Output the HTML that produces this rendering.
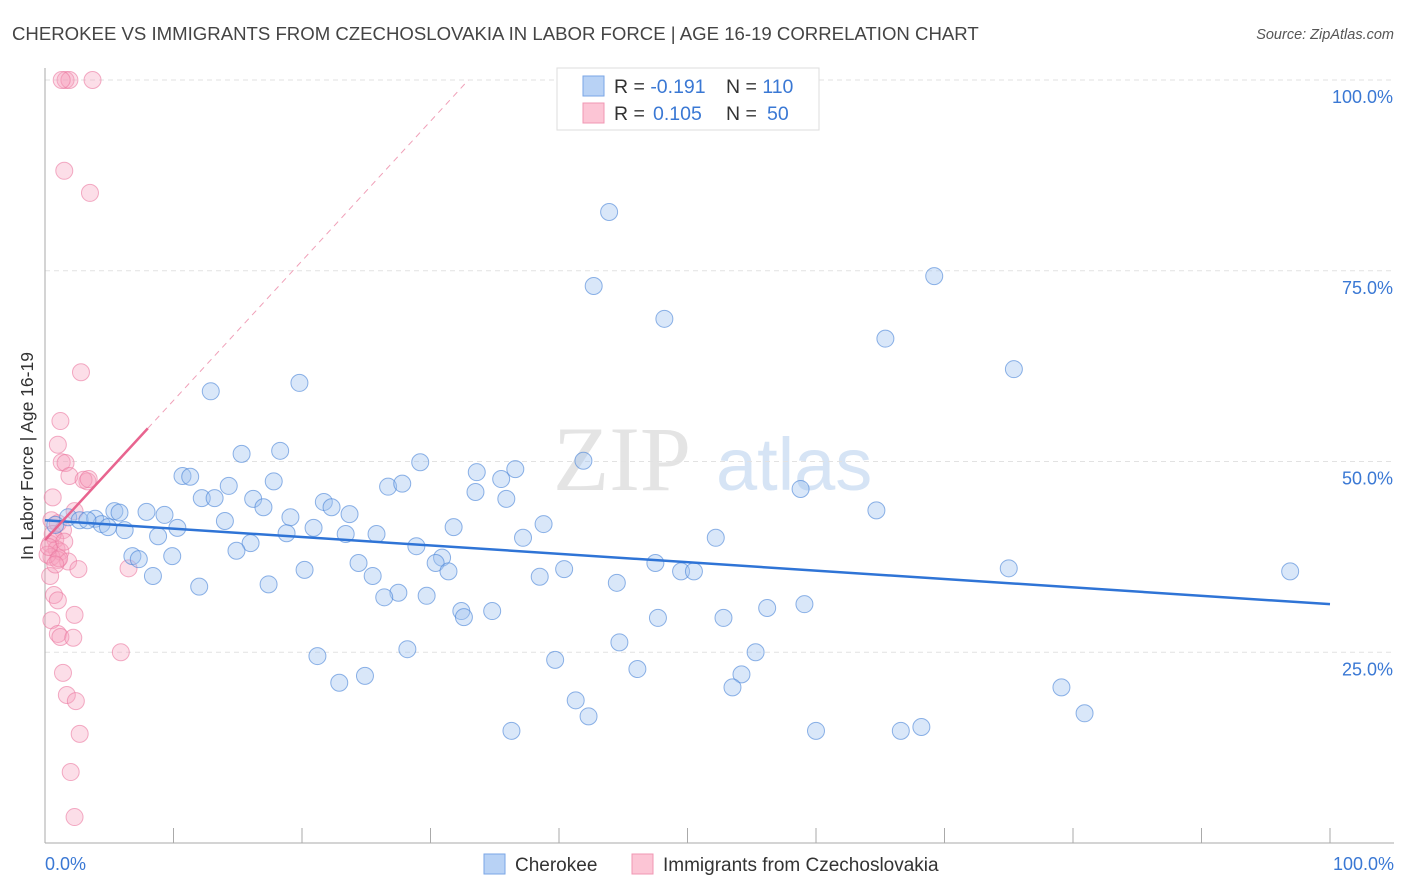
<!DOCTYPE html>
<html><head><meta charset="utf-8"><style>
body{margin:0;background:#fff;font-family:"Liberation Sans",sans-serif;}
#wrap{position:relative;width:1406px;height:892px;overflow:hidden;}
svg{position:absolute;left:0;top:0;}
</style></head><body>
<div id="wrap">
<svg id="chart" width="1406" height="892">
<text x="12" y="40" font-size="18.6" fill="#444">CHEROKEE VS IMMIGRANTS FROM CZECHOSLOVAKIA IN LABOR FORCE | AGE 16-19 CORRELATION CHART</text>
<text x="1394" y="39" font-size="14.5" fill="#555" font-style="italic" text-anchor="end">Source: ZipAtlas.com</text>
<g>
<text x="553" y="490" font-size="92" fill="#e4e4e4" font-family="Liberation Serif,serif">ZIP</text>
<text x="716" y="490" font-size="74" fill="#d6e4f5">atlas</text>
</g>
<g id="grid"></g>
<g id="axes"></g>
<g id="pink"></g>
<g id="blue"></g>
<g id="trend"></g>
<text x="33" y="456" font-size="17.5" fill="#333" text-anchor="middle" transform="rotate(-90 33 456)">In Labor Force | Age 16-19</text>
<g>
<rect x="557" y="68" width="262" height="62" fill="#fff" stroke="#ddd"/>
<rect x="583" y="76" width="21" height="20" fill="#b8d2f5" stroke="#7aa6e6"/>
<rect x="583" y="103" width="21" height="20" fill="#fcc5d5" stroke="#f097b3"/>
<text x="614" y="93" font-size="19.5" fill="#333">R = <tspan fill="#3a78d4">-0.191</tspan><tspan x="726">N = </tspan><tspan fill="#3a78d4">110</tspan></text>
<text x="614" y="120" font-size="19.5" fill="#333">R = <tspan fill="#3a78d4" x="653">0.105</tspan><tspan x="726">N = </tspan><tspan fill="#3a78d4" x="767">50</tspan></text>
</g>
<g>
<rect x="484" y="854" width="21" height="20" fill="#b8d2f5" stroke="#7aa6e6"/>
<text x="515" y="871" font-size="19" fill="#333">Cherokee</text>
<rect x="632" y="854" width="21" height="20" fill="#fcc5d5" stroke="#f097b3"/>
<text x="663" y="871" font-size="19" fill="#333">Immigrants from Czechoslovakia</text>
</g>
</svg>
</div>
<script>
const blueX=[43.9,42.7,48.2,69.2,65.4,75.4,12.9,19.8,15.3,18.3,29.2,41.9,10.7,11.3,17.8,33.6,36.6,35.5,26.7,27.8,33.5,14.3,58.8,12.2,13.2,16.2,17.0,21.7,22.3,35.9,64.7,5.4,5.8,7.9,9.3,23.7,19.1,14.0,1.8,2.7,3.9,4.4,3.3,4.9,6.2,10.3,20.9,31.8,38.8,0.8,18.8,23.4,25.8,8.8,37.2,52.2,16.0,28.9,14.9,6.8,7.3,9.9,30.9,30.4,24.4,31.4,20.2,40.4,47.5,49.5,50.5,75.0,96.9,8.4,25.5,38.5,44.5,12.0,17.4,27.5,26.4,29.7,59.1,56.2,32.4,34.8,32.6,47.7,52.8,44.7,28.2,55.3,21.2,39.7,46.1,54.2,24.9,22.9,53.5,79.1,41.3,42.3,80.9,36.3,60.0,66.6,68.2];
const blueY=[82.7,73.0,68.7,74.3,66.1,62.1,59.2,60.3,51.0,51.4,49.9,50.1,48.1,48.0,47.4,48.6,49.0,47.7,46.7,47.1,46.0,46.8,46.4,45.2,45.2,45.1,44.0,44.7,44.0,45.1,43.6,43.5,43.3,43.4,43.0,43.1,42.7,42.2,42.7,42.3,42.5,41.8,42.3,41.4,41.0,41.3,41.3,41.4,41.8,41.7,40.6,40.5,40.5,40.2,40.0,40.0,39.3,38.9,38.3,37.6,37.2,37.6,37.4,36.7,36.7,35.6,35.8,35.9,36.7,35.6,35.6,36.0,35.6,35.0,35.0,34.9,34.1,33.6,33.9,32.8,32.2,32.4,31.3,30.8,30.4,30.4,29.6,29.5,29.5,26.3,25.4,25.0,24.5,24.0,22.8,22.1,21.9,21.0,20.4,20.4,18.7,16.6,17.0,14.7,14.7,14.7,15.2];
const pinkX=[1.6,1.9,1.3,3.7,1.5,3.5,2.8,1.2,1.0,1.3,1.6,1.9,3.3,3.0,3.4,0.6,2.3,0.5,1.0,1.4,0.8,0.4,0.9,1.2,0.5,1.0,1.8,0.2,2.6,6.5,0.4,0.7,1.0,2.3,0.5,1.0,1.2,2.2,5.9,1.4,1.7,2.4,2.7,2.0,2.3,0.6,0.3,1.1,0.8,1.5];
const pinkY=[100,100,100,100,88.1,85.2,61.7,55.3,52.2,49.9,49.8,48.1,47.4,47.6,47.7,45.3,43.5,42.3,41.9,41.0,39.8,39.2,38.5,38.2,37.5,37.1,36.9,37.8,35.9,36.0,35.0,32.5,31.8,29.9,29.2,27.4,27.0,26.9,25.0,22.3,19.4,18.6,14.3,9.3,3.4,40.5,38.8,37.3,36.5,39.5];
const blueTrend=[42.3,31.3];
const pinkTrend=[39.7,1.83];
const yTicks=[25,50,75,100];
const xTicks=[0,10,20,30,40,50,60,70,80,90,100];
const NS="http://www.w3.org/2000/svg";
const sx=v=>45+v*12.85;
const sy=v=>843-v*7.63;
function mk(tag,attrs,parent){const e=document.createElementNS(NS,tag);for(const k in attrs)e.setAttribute(k,attrs[k]);document.getElementById(parent).appendChild(e);return e;}
yTicks.forEach(t=>{
 const l=mk('line',{x1:45,x2:1394,y1:sy(t),y2:sy(t),stroke:'#e2e2e2','stroke-dasharray':'5,4'},'grid');
 
 
 const tx=mk('text',{x:1393,y:sy(t)+23,'font-size':18,fill:'#3a78d4','text-anchor':'end'},'grid');
 tx.textContent=t.toFixed(1)+'%';
 
 
});
let ax=mk('line',{x1:45,x2:45,y1:68,y2:843,stroke:'#aaa'},'axes');


ax=mk('line',{x1:45,x2:1394,y1:843,y2:843,stroke:'#aaa'},'axes');


xTicks.forEach(t=>{
 const l=mk('line',{x1:sx(t),x2:sx(t),y1:828,y2:843,stroke:'#aaa'},'axes');
 
 
});
let tl=mk('text',{x:45,y:870,'font-size':18,fill:'#3a78d4'},'axes');tl.textContent='0.0%';


tl=mk('text',{x:1394,y:870,'font-size':18,fill:'#3a78d4','text-anchor':'end'},'axes');tl.textContent='100.0%';


pinkX.forEach((x,i)=>{
 const c=mk('circle',{cx:sx(x),cy:sy(pinkY[i]),r:8.5,fill:'rgba(247,160,190,0.35)',stroke:'rgba(235,120,160,0.6)','stroke-width':1},'pink');
 
 
});
blueX.forEach((x,i)=>{
 const c=mk('circle',{cx:sx(x),cy:sy(blueY[i]),r:8.5,fill:'rgba(160,196,240,0.4)',stroke:'rgba(70,130,215,0.6)','stroke-width':1},'blue');
 
 
});
let t=mk('line',{x1:sx(0),y1:sy(blueTrend[0]),x2:sx(100),y2:sy(blueTrend[1]),stroke:'#2f74d6','stroke-width':2.5},'trend');


const xEnd=(100-pinkTrend[0])/pinkTrend[1];
t=mk('line',{x1:sx(8),y1:sy(pinkTrend[0]+8*pinkTrend[1]),x2:sx(xEnd),y2:sy(100),stroke:'#f0a0b8','stroke-width':1,'stroke-dasharray':'6,5'},'trend');


t=mk('line',{x1:sx(0),y1:sy(pinkTrend[0]),x2:sx(8),y2:sy(pinkTrend[0]+8*pinkTrend[1]),stroke:'#e8648f','stroke-width':2.5},'trend');


</script>
</body></html>
